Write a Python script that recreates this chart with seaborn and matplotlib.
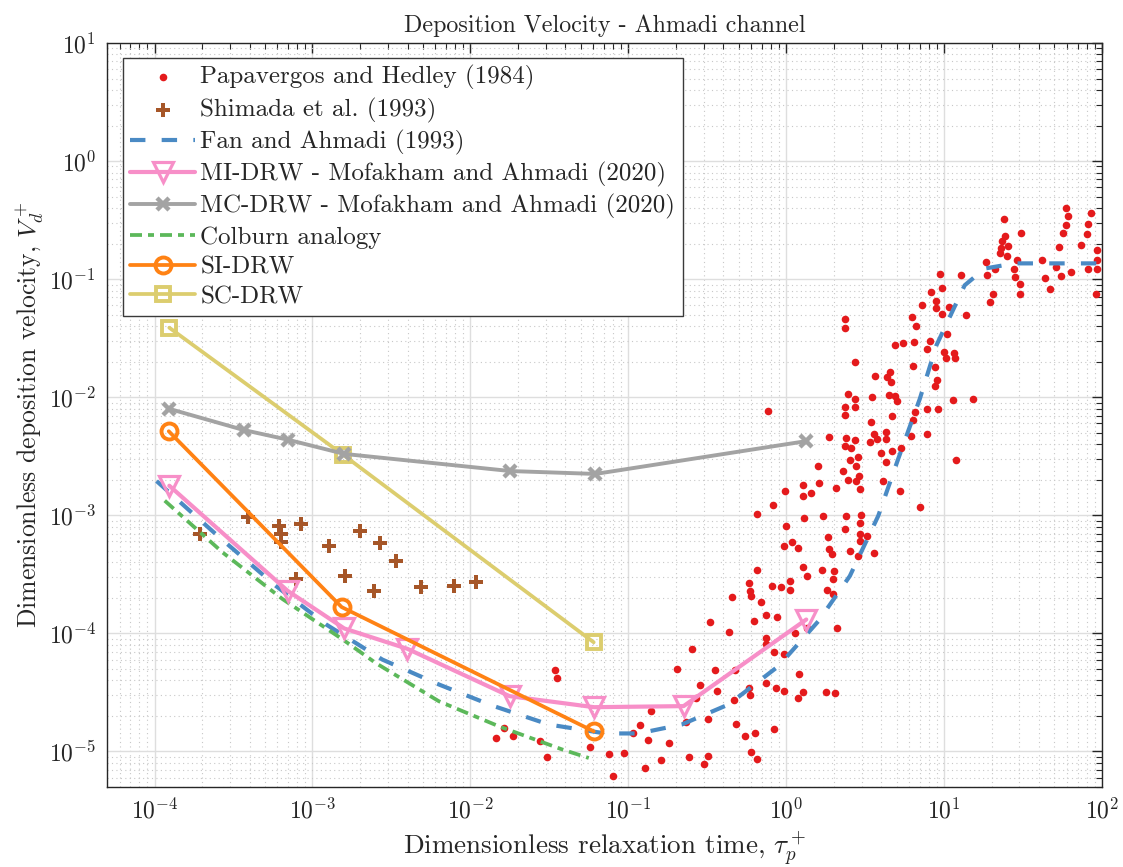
import numpy as np
import matplotlib
matplotlib.use("Agg")
import matplotlib.pyplot as plt
import seaborn as sns
from matplotlib.ticker import LogLocator, FuncFormatter, NullFormatter

# ---------------- data ----------------
papa_tau = [0.0346, 0.0354, 0.0163, 0.0146, 0.0186, 0.0278, 0.0306, 0.0573, 0.0752, 0.0942,
            0.080, 0.107, 0.118, 0.139, 0.134, 0.128, 0.161, 0.182, 0.204,
            0.649, 0.579, 0.587, 0.600, 0.455, 0.690, 0.815, 0.922, 1.05, 1.05,
            1.28, 1.36, 1.68, 2.0, 1.97, 1.82, 1.97, 0.330, 0.434, 0.630,
            0.740, 0.879, 0.750, 0.740, 0.840, 0.97, 1.14, 1.35, 2.10, 0.252,
            0.352, 0.475, 0.286, 0.364, 0.585, 0.740, 0.867, 0.97, 1.21, 1.18,
            1.28, 1.79, 2.04, 0.587, 0.466, 0.268, 0.232, 0.320, 0.484, 0.545,
            0.638, 0.840, 0.597, 0.658, 0.243, 0.319, 0.300,
            0.764, 2.36, 2.36, 2.71, 2.46, 2.71, 2.36, 2.36, 2.73, 3.51,
            3.65, 4.35, 4.54, 4.62, 4.47, 4.92, 5.02, 4.69, 3.46, 1.87,
            2.39, 2.73, 2.36, 2.59, 3.60, 3.40, 3.76, 4.26, 4.26, 4.0,
            4.69, 2.86, 2.55, 2.77, 4.28, 5.35, 1.60, 2.28, 2.47, 2.77,
            2.90, 2.94, 4.13, 5.25, 2.07, 1.62, 1.28, 1.43, 1.28, 0.99,
            0.83, 0.652, 1.30, 1.70, 2.39, 2.99, 2.94, 2.36, 1.0, 1.85,
            2.95, 3.24, 2.92, 1.09, 0.97, 1.18, 1.87, 1.94, 2.55, 2.85,
            3.62, 7.0, 11.9, 6.37, 4.90, 5.51, 6.46, 7.85, 8.13, 8.77,
            9.03, 8.8, 10.0, 10.3, 11.6, 11.8, 10.5, 7.8, 9.2, 11.4,
            15.2, 6.18, 7.85, 6.37, 6.59, 6.28, 6.68, 7.26, 8.28, 8.9,
            8.9, 9.68, 9.4, 9.68, 10.8, 13.8, 12.8, 18.4, 18.7, 21.0,
            20.3, 19.6, 23.8, 24.3, 23.4, 25.4, 23.0, 22.7, 25.0, 28.9,
            30.8, 27.6, 28.0, 30.3, 30.3, 41.8, 43.3, 46.9, 50.8, 55.2,
            53.3, 56.8, 58.8, 60.8, 58.8, 63.5, 73.8, 80.2, 81.3, 85.1,
            81.3, 92.3, 92.7, 92.7, 91.0]
papa_vd = [4.9e-5, 4.2e-5, 1.58e-5, 1.29e-5, 1.36e-5, 1.22e-5, 8.9e-6, 1.10e-5, 9.5e-6, 9.7e-6,
           6.2e-6, 1.42e-5, 1.69e-5, 2.19e-5, 1.26e-5, 7.3e-6, 8.5e-6, 1.18e-5, 5.0e-5,
           3.44e-4, 2.65e-4, 2.30e-4, 2.06e-4, 2.03e-4, 1.84e-4, 2.52e-4, 2.49e-4, 2.78e-4, 2.33e-4,
           3.66e-4, 3.05e-4, 3.47e-4, 3.40e-4, 2.89e-4, 2.35e-4, 2.14e-4, 1.25e-4, 1.03e-4, 1.27e-4,
           1.42e-4, 1.38e-4, 9.2e-5, 8.1e-5, 7.0e-5, 6.7e-5, 1.0e-4, 1.11e-4, 1.11e-4, 7.3e-5,
           4.92e-5, 4.85e-5, 3.67e-5, 3.28e-5, 3.46e-5, 3.77e-5, 3.43e-5, 3.27e-5, 4.49e-5, 2.86e-5,
           3.20e-5, 3.20e-5, 3.14e-5, 3.02e-5, 2.75e-5, 2.82e-5, 1.79e-5, 1.87e-5, 1.70e-5, 1.34e-5,
           1.43e-5, 1.54e-5, 9.8e-6, 8.7e-6, 8.9e-6, 9.2e-6, 7.9e-6,
           7.6e-3, 0.0457, 0.0383, 0.0199, 0.0106, 9.75e-3, 8.3e-3, 7.1e-3, 8.3e-3, 0.0101,
           0.0150, 0.0148, 0.0165, 0.0134, 0.0105, 0.0103, 9.3e-3, 6.95e-3, 6.2e-3, 4.6e-3,
           4.55e-3, 4.3e-3, 3.9e-3, 3.7e-3, 4.9e-3, 4.2e-3, 4.4e-3, 5.06e-3, 4.4e-3, 3.35e-3,
           3.48e-3, 3.14e-3, 2.94e-3, 2.63e-3, 2.81e-3, 3.74e-3, 2.6e-3, 2.39e-3, 2.0e-3, 1.94e-3,
           2.14e-3, 1.66e-3, 1.94e-3, 1.61e-3, 1.71e-3, 1.87e-3, 1.80e-3, 1.53e-3, 1.45e-3, 1.61e-3,
           1.22e-3, 1.02e-3, 9.5e-4, 9.8e-4, 9.8e-4, 1.0e-3, 8.6e-4, 7.6e-4, 8.1e-4, 6.6e-4,
           7.0e-4, 6.7e-4, 6.1e-4, 5.9e-4, 5.5e-4, 5.3e-4, 5.2e-4, 4.7e-4, 5.0e-4, 4.5e-4,
           4.75e-4, 1.17e-3, 2.94e-3, 0.0185, 0.0275, 0.029, 0.0294, 0.0254, 0.0297, 0.018,
           0.0141, 0.0125, 0.0241, 0.0215, 0.0238, 0.0215, 0.0343, 7.9e-3, 7.9e-3, 9.4e-3,
           9.6e-3, 4.7e-3, 4.86e-3, 6.4e-3, 7.5e-3, 0.0481, 0.0404, 0.060, 0.0774, 0.0649,
           0.057, 0.0504, 0.110, 0.0849, 0.0577, 0.0494, 0.108, 0.140, 0.109, 0.121,
           0.0748, 0.0646, 0.321, 0.231, 0.211, 0.192, 0.182, 0.167, 0.156, 0.145,
           0.244, 0.122, 0.104, 0.0912, 0.0755, 0.145, 0.102, 0.0828, 0.127, 0.107,
           0.187, 0.246, 0.397, 0.344, 0.288, 0.116, 0.196, 0.240, 0.296, 0.366,
           0.123, 0.177, 0.144, 0.121, 0.075]

shimada_tau = [3.88e-4, 1.93e-4, 6.18e-4, 6.36e-4, 6.36e-4, 8.5e-4, 1.28e-3, 2.01e-3,
               2.69e-3, 3.4e-3, 7.9e-4, 1.6e-3, 2.47e-3, 4.9e-3, 7.9e-3, 1.08e-2]
shimada_vd = [9.7e-4, 6.9e-4, 8.1e-4, 6.9e-4, 5.9e-4, 8.4e-4, 5.5e-4, 7.3e-4,
              5.8e-4, 4.1e-4, 2.88e-4, 3.05e-4, 2.28e-4, 2.46e-4, 2.5e-4, 2.7e-4]

fan_tau = [1.03e-4, 2.45e-4, 5.87e-4, 1.22e-3, 2.77e-3, 6.32e-3, 0.0137, 0.0314, 0.0716,
           0.116, 0.218, 0.432, 0.894, 1.60, 2.53, 3.83, 5.12, 7.02, 8.94, 13.5, 18.1, 28.0, 100.0]
fan_vd = [1.95e-3, 6.9e-4, 2.52e-4, 1.19e-4, 6.0e-5, 3.69e-5, 2.45e-5, 1.69e-5, 1.42e-5,
          1.42e-5, 1.69e-5, 2.5e-5, 5.28e-5, 1.27e-4, 3.06e-4, 9.9e-4, 3.0e-3, 9.7e-3, 0.0275,
          0.0887, 0.123, 0.136, 0.136]

mi_tau = [1.24e-4, 6.97e-4, 1.59e-3, 3.99e-3, 0.0177, 0.0607, 0.224, 1.34]
mi_vd = [1.78e-3, 2.29e-4, 1.10e-4, 7.4e-5, 2.94e-5, 2.37e-5, 2.42e-5, 1.31e-4]

mc_tau = [1.24e-4, 3.66e-4, 6.97e-4, 1.59e-3, 0.0179, 0.0620, 1.33]
mc_vd = [7.97e-3, 5.28e-3, 4.37e-3, 3.31e-3, 2.37e-3, 2.24e-3, 4.24e-3]

colburn_tau = [1.16e-4, 2.70e-4, 6.47e-4, 1.55e-3, 2.52e-3, 6.32e-3, 0.0152, 0.0381, 0.0562]
colburn_vd = [1.33e-3, 4.84e-4, 1.95e-4, 8.9e-5, 5.6e-5, 2.66e-5, 1.63e-5, 1.04e-5, 8.8e-6]

si_tau = [1.23e-4, 1.53e-3, 0.0604]
si_vd = [5.15e-3, 1.67e-4, 1.48e-5]

sc_tau = [1.24e-4, 1.57e-3, 0.0604]
sc_vd = [0.0388, 3.24e-3, 8.4e-5]

labels = ["Papavergos and Hedley (1984)", "Shimada et al. (1993)", "Fan and Ahmadi (1993)",
          "MI-DRW - Mofakham and Ahmadi (2020)", "MC-DRW - Mofakham and Ahmadi (2020)",
          "Colburn analogy", "SI-DRW", "SC-DRW"]

RED = "#e41a1c"
BROWN = "#a65628"
BLUE = "#4a8ac4"
PINK = "#f78fc8"
GRAY = "#a3a3a3"
GREEN = "#5cb85a"
ORANGE = "#ff8214"
YELLOW = "#dccd6e"

# ---------------- style ----------------
sns.set_style("white")
plt.rcParams.update({
    "font.family": "cmr10",
    "mathtext.fontset": "cm",
    "axes.unicode_minus": False,
    "axes.formatter.use_mathtext": True,
})

fig = plt.figure(figsize=(11.23, 8.67), dpi=100)
ax = fig.add_axes([0.0953, 0.0923, 0.886, 0.8581])
ax.set_xscale("log")
ax.set_yscale("log")

line_kw = dict(ax=ax, estimator=None, sort=False, legend=False)

sns.scatterplot(x=papa_tau, y=papa_vd, ax=ax, color=RED, s=30, linewidth=0,
                zorder=3, legend=False)
sns.scatterplot(x=shimada_tau, y=shimada_vd, ax=ax, color=BROWN, marker="P", s=90,
                linewidth=0, zorder=3, legend=False)
sns.lineplot(x=fan_tau, y=fan_vd, color=BLUE, lw=3.0, linestyle=(0, (3.7, 3.9)),
             zorder=4, **line_kw)
sns.lineplot(x=mi_tau, y=mi_vd, color=PINK, lw=3.0, marker="v", ms=15,
             mfc="none", mec=PINK, mew=2.3, zorder=5, **line_kw)
sns.lineplot(x=colburn_tau, y=colburn_vd, color=GREEN, lw=2.7,
             linestyle=(0, (3.2, 1.6, 1.6, 1.6)), zorder=4, **line_kw)
sns.lineplot(x=si_tau, y=si_vd, color=ORANGE, lw=2.7, marker="o", ms=11.5,
             mfc="none", mec=ORANGE, mew=2.8, zorder=5, **line_kw)
sns.lineplot(x=sc_tau, y=sc_vd, color=YELLOW, lw=2.7, marker="s", ms=10,
             mfc="none", mec=YELLOW, mew=2.8, zorder=5, **line_kw)
sns.lineplot(x=mc_tau, y=mc_vd, color=GRAY, lw=2.8, marker="x", ms=8.5,
             mec=GRAY, mew=3.2, zorder=6, **line_kw)

ax.set_xlim(5e-5, 100)
ax.set_ylim(5e-6, 10)

fmt = FuncFormatter(lambda v, p: r"$10^{%d}$" % int(round(np.log10(v))))
for axis in (ax.xaxis, ax.yaxis):
    axis.set_major_locator(LogLocator(base=10, numticks=30))
    axis.set_minor_locator(LogLocator(base=10, subs=np.arange(2, 10), numticks=100))
    axis.set_major_formatter(fmt)
    axis.set_minor_formatter(NullFormatter())

ax.set_axisbelow(True)
ax.grid(True, which="major", color="#dedede", lw=1.0, ls="-")
ax.grid(True, which="minor", color="#c8c8c8", lw=0.8, ls=(0, (1, 3)))

ax.tick_params(which="both", direction="in", top=True, right=True, colors="#262626")
ax.tick_params(which="major", length=7, width=1.0, labelsize=17, pad=8)
ax.tick_params(which="minor", length=4, width=0.8)
for sp in ax.spines.values():
    sp.set_color("#262626")
    sp.set_linewidth(1.0)

ax.set_title("Deposition Velocity - Ahmadi channel", fontsize=17.3, pad=8)
ax.set_xlabel(r"Dimensionless relaxation time, $\tau_p^+$", fontsize=19.5, labelpad=4)
ax.set_ylabel(r"Dimensionless deposition velocity, $V_d^+$", fontsize=18.5, labelpad=2)

# legend built from the plotted artists in order
handles = [ax.collections[0], ax.collections[1]] + list(ax.lines)
order = [0, 1, 2, 3, 7, 4, 5, 6]
handles = [handles[i] for i in order]
leg = ax.legend(handles, labels, loc="upper left", bbox_to_anchor=(0.016, 0.980),
                borderaxespad=0, fontsize=18, handlelength=2.6, handletextpad=0.2,
                labelspacing=0.285, borderpad=0.3, frameon=True, fancybox=False,
                framealpha=1, edgecolor="#3a3a3a", scatterpoints=1)
leg.get_frame().set_linewidth(1.0)

fig.savefig("out.png", dpi=100, facecolor="white")
